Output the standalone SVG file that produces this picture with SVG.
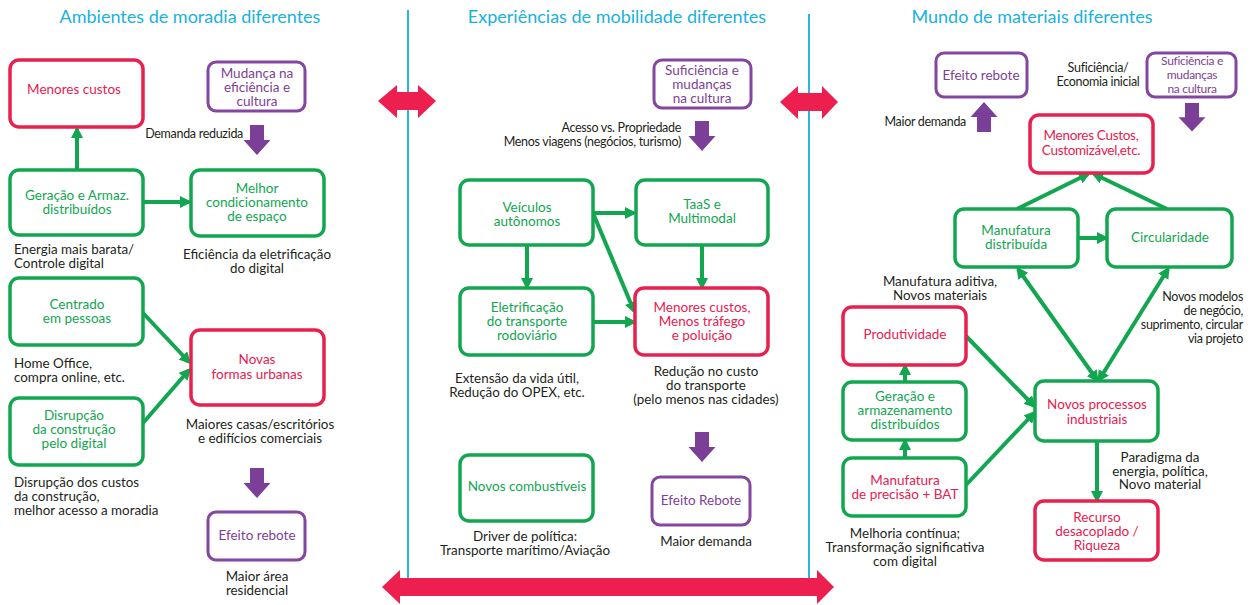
<svg xmlns="http://www.w3.org/2000/svg" width="1253" height="605" viewBox="0 0 1253 605">
<style>
text{font-family:Lato,"Noto Sans","DejaVu Sans",sans-serif;font-size:13.4px;fill:#231f20;text-anchor:middle}
.t{font-size:18px;fill:#1ab1de}
.l{text-anchor:start}
.r{text-anchor:end}
.c{font-size:12.5px;letter-spacing:-0.3px}
.g rect{fill:#fff;stroke:#12a650;stroke-width:3.5}
.g text{fill:#12a650;font-size:13.5px}
.rd rect{fill:#fff;stroke:#e8204f;stroke-width:3.5}
.rd text,text.rt{fill:#e8204f;font-size:13.5px}
.p rect{fill:#fff;stroke:#8446a0;stroke-width:3}
.p text{fill:#7d3f98;font-size:13.5px}
.p text.s{font-size:12px;letter-spacing:-0.3px}
.conn line{stroke:#12a650;stroke-width:4;marker-end:url(#ah)}
.conn line.d{marker-start:url(#ah)}
.pa{fill:#7c3f98}
.ra{fill:#ec1f4f}
.vl{stroke:#2ab4e0;stroke-width:2}
</style>
<defs>
<marker id="ah" markerUnits="userSpaceOnUse" markerWidth="12" markerHeight="12" refX="9" refY="6" orient="auto-start-reverse" viewBox="0 0 12 12"><path d="M0,0 L12,6 L0,12 Z" fill="#12a650"/></marker>
<path id="dn" d="M-7,0 H7 V15 H13.5 L0,30 L-13.5,15 H-7 Z"/>
</defs>
<rect width="1253" height="605" fill="#fff"/>
<g id="dividers">
<line class="vl" x1="408" y1="10" x2="408" y2="580"/>
<line class="vl" x1="809" y1="14" x2="809" y2="580"/>
</g>
<g id="titles">
<text class="t" x="190" y="23">Ambientes de moradia diferentes</text>
<text class="t" x="617" y="23">Experiências de mobilidade diferentes</text>
<text class="t" x="1032" y="23">Mundo de materiais diferentes</text>
</g>
<g id="big-arrows" class="ra">
<path d="M378,101 L397,85 L397,92 L418,92 L418,85 L436,101 L418,118 L418,110 L397,110 L397,118 Z"/>
<path d="M780,102 L798,86 L798,93 L822,93 L822,86 L838,102 L822,119 L822,111 L798,111 L798,119 Z"/>
<path d="M382,587 L400,570 L400,578 L817,578 L817,570 L834,587 L817,604 L817,596 L400,596 L400,604 Z"/>
</g>
<g id="purple-arrows" class="pa">
<use href="#dn" transform="translate(257,125)"/>
<use href="#dn" transform="translate(257,468)"/>
<use href="#dn" transform="translate(702,121)"/>
<use href="#dn" transform="translate(702,432)"/>
<use href="#dn" transform="translate(984,132) scale(1,-1)"/>
<use href="#dn" transform="translate(1192,103) scale(1,0.95)"/>
</g>
<g id="connectors" class="conn">
<line x1="77" y1="170" x2="77" y2="129"/>
<line x1="143" y1="202" x2="189" y2="202"/>
<line x1="143" y1="313" x2="189" y2="362"/>
<line x1="143" y1="423" x2="189" y2="370"/>
<line x1="593" y1="213" x2="634" y2="213"/>
<line x1="527" y1="245" x2="527" y2="287"/>
<line x1="702" y1="245" x2="702" y2="287"/>
<line x1="593" y1="213" x2="634" y2="311"/>
<line x1="593" y1="322" x2="634" y2="322"/>
<line x1="1017" y1="209" x2="1088" y2="174"/>
<line x1="1167" y1="209" x2="1094" y2="174"/>
<line x1="1078" y1="238" x2="1106" y2="238"/>
<line class="d" x1="1018" y1="269" x2="1097" y2="380"/>
<line class="d" x1="1168" y1="269" x2="1099" y2="380"/>
<line x1="966" y1="336" x2="1034" y2="406"/>
<line x1="966" y1="485" x2="1034" y2="413"/>
<line x1="905" y1="382" x2="905" y2="366"/>
<line x1="905" y1="458" x2="905" y2="441"/>
<line x1="1097" y1="441" x2="1097" y2="500"/>
</g>
<g id="n-menores-custos" class="rd"><rect x="10" y="60" width="133" height="67" rx="9"/><text x="74" y="93.5">Menores custos</text></g>
<g id="n-mudanca" class="p"><rect x="208" y="62" width="97" height="49" rx="8"/><text x="257" y="77.5">Mudança na</text><text x="257" y="91.5">eficiência e</text><text x="257" y="105.5">cultura</text></g>
<g id="n-geracao" class="g"><rect x="10" y="170" width="133" height="65" rx="9"/><text x="77" y="199.5">Geração e Armaz.</text><text x="77" y="213.5">distribuídos</text></g>
<g id="n-melhor" class="g"><rect x="191" y="170" width="133" height="66" rx="9"/><text x="257" y="192.5">Melhor</text><text x="257" y="206.5">condicionamento</text><text x="257" y="220.5">de espaço</text></g>
<g id="n-centrado" class="g"><rect x="10" y="278" width="133" height="67" rx="9"/><text x="77" y="308.5">Centrado</text><text x="77" y="322.5">em pessoas</text></g>
<g id="n-disrupcao" class="g"><rect x="10" y="398" width="133" height="67" rx="9"/><text x="74" y="419.5">Disrupção</text><text x="74" y="433.5">da construção</text><text x="74" y="447.5">pelo digital</text></g>
<g id="n-novas-formas" class="rd"><rect x="191" y="330" width="133" height="75" rx="9"/><text x="257" y="364">Novas</text><text x="257" y="379">formas urbanas</text></g>
<g id="n-efeito-rebote-1" class="p"><rect x="208" y="512" width="97" height="48" rx="8"/><text x="257" y="539.5">Efeito rebote</text></g>
<g id="notes-left">
<text class="r c" x="243" y="137.5">Demanda reduzida</text>
<text class="l" x="14" y="253.5">Energia mais barata/</text>
<text class="l" x="14" y="268">Controle digital</text>
<text x="257" y="258.5">Eficiência da  eletrificação</text>
<text x="257" y="272.5">do digital</text>
<text class="l" x="14" y="367.5">Home Office,</text>
<text class="l" x="14" y="382">compra online, etc.</text>
<text x="260" y="429">Maiores casas/escritórios</text>
<text x="260" y="443">e edifícios comerciais</text>
<text class="l" x="14" y="486.5">Disrupção dos custos</text>
<text class="l" x="14" y="500.5">da construção,</text>
<text class="l" x="14" y="514.5">melhor acesso a moradia</text>
<text x="257" y="580.5">Maior área</text>
<text x="257" y="594.5">residencial</text>
</g>
<g id="n-suficiencia-2" class="p"><rect x="654" y="60" width="97" height="48" rx="8"/><text x="702" y="74.5">Suficiência e</text><text x="702" y="88.5">mudanças</text><text x="702" y="102.5">na cultura</text></g>
<g id="n-veiculos" class="g"><rect x="460" y="180" width="133" height="65" rx="9"/><text x="527" y="211.5">Veículos</text><text x="527" y="225.5">autônomos</text></g>
<g id="n-taas" class="g"><rect x="636" y="180" width="132" height="65" rx="9"/><text x="702" y="208.5">TaaS e</text><text x="702" y="222.5">Multimodal</text></g>
<g id="n-eletrificacao" class="g"><rect x="460" y="288" width="133" height="67" rx="9"/><text x="527" y="311.5">Eletrificação</text><text x="527" y="325.5">do transporte</text><text x="527" y="339.5">rodoviário</text></g>
<g id="n-menores-custos-2" class="rd"><rect x="635" y="288" width="133" height="67" rx="9"/><text x="702" y="311.5">Menores custos,</text><text x="702" y="325.5">Menos tráfego</text><text x="702" y="339.5">e poluição</text></g>
<g id="n-combustiveis" class="g"><rect x="460" y="455" width="133" height="66" rx="9"/><text x="527" y="490.5">Novos combustíveis</text></g>
<g id="n-efeito-rebote-2" class="p"><rect x="652" y="477" width="98" height="48" rx="8"/><text x="701" y="504.5">Efeito Rebote</text></g>
<g id="notes-middle">
<text class="r c" x="681" y="131.5">Acesso vs. Propriedade</text>
<text class="r c" x="681" y="145.5">Menos viagens (negócios, turismo)</text>
<text x="517" y="382.5">Extensão da vida útil,</text>
<text x="517" y="396.5">Redução do OPEX, etc.</text>
<text x="706" y="375.5">Redução no custo</text>
<text x="706" y="389.5">do transporte</text>
<text x="706" y="403.5">(pelo menos nas cidades)</text>
<text x="525" y="540.5">Driver de política:</text>
<text x="525" y="554.5">Transporte marítimo/Aviação</text>
<text x="706" y="545.5">Maior demanda</text>
</g>
<g id="n-efeito-rebote-3" class="p"><rect x="936" y="53" width="91" height="44" rx="8"/><text x="981" y="79.5">Efeito rebote</text></g>
<g id="n-suficiencia-3" class="p"><rect x="1147" y="53" width="89" height="44" rx="8"/><text class="s" x="1192" y="65">Suficiência e</text><text class="s" x="1192" y="79">mudanças</text><text class="s" x="1192" y="93">na cultura</text></g>
<g id="n-menores-custos-3" class="rd"><rect x="1030" y="115" width="123" height="58" rx="9"/><text class="c" x="1091" y="139.5">Menores Custos,</text><text class="c" x="1091" y="154.5">Customizável,etc.</text></g>
<g id="n-manufatura-distribuida" class="g"><rect x="955" y="209" width="123" height="58" rx="9"/><text x="1016" y="234.5">Manufatura</text><text x="1016" y="248.5">distribuída</text></g>
<g id="n-circularidade" class="g"><rect x="1107" y="209" width="125" height="58" rx="9"/><text x="1170" y="241.5">Circularidade</text></g>
<g id="n-produtividade" class="rd"><rect x="843" y="307" width="123" height="58" rx="9"/><text x="905" y="338.5">Produtividade</text></g>
<g id="n-geracao-3" class="g"><rect x="843" y="382" width="123" height="58" rx="9"/><text x="905" y="400.5">Geração e</text><text x="905" y="414.5">armazenamento</text><text x="905" y="428.5">distribuídos</text></g>
<g id="n-precisao" class="g"><rect x="843" y="458" width="123" height="58" rx="9"/><text class="rt" x="905" y="484.5">Manufatura</text><text class="rt" x="905" y="498.5">de precisão + BAT</text></g>
<g id="n-novos-processos" class="g"><rect x="1035" y="381" width="123" height="60" rx="9"/><text class="rt" x="1097" y="409">Novos processos</text><text class="rt" x="1097" y="424">industriais</text></g>
<g id="n-recurso" class="rd"><rect x="1035" y="501" width="123" height="59" rx="9"/><text x="1097" y="521.5">Recurso</text><text x="1097" y="535.5">desacoplado /</text><text x="1097" y="549.5">Riqueza</text></g>
<g id="notes-right">
<text class="r c" x="966" y="125.5">Maior demanda</text>
<text class="c" x="1098" y="71.5">Suficiência/</text>
<text class="c" x="1098" y="85.5">Economia inicial</text>
<text x="940" y="285.5">Manufatura aditiva,</text>
<text x="940" y="299.5">Novos materiais</text>
<text class="r c" x="1243" y="301">Novos modelos</text>
<text class="r c" x="1243" y="315">de negócio,</text>
<text class="r c" x="1243" y="328.5">suprimento, circular</text>
<text class="r c" x="1243" y="342.5">via projeto</text>
<text x="1160" y="461.5">Paradigma da</text>
<text x="1160" y="475.5">energia, política,</text>
<text x="1160" y="489">Novo material</text>
<text x="905" y="538">Melhoria contínua;</text>
<text x="905" y="552">Transformação significativa</text>
<text x="905" y="566">com digital</text>
</g>
</svg>
